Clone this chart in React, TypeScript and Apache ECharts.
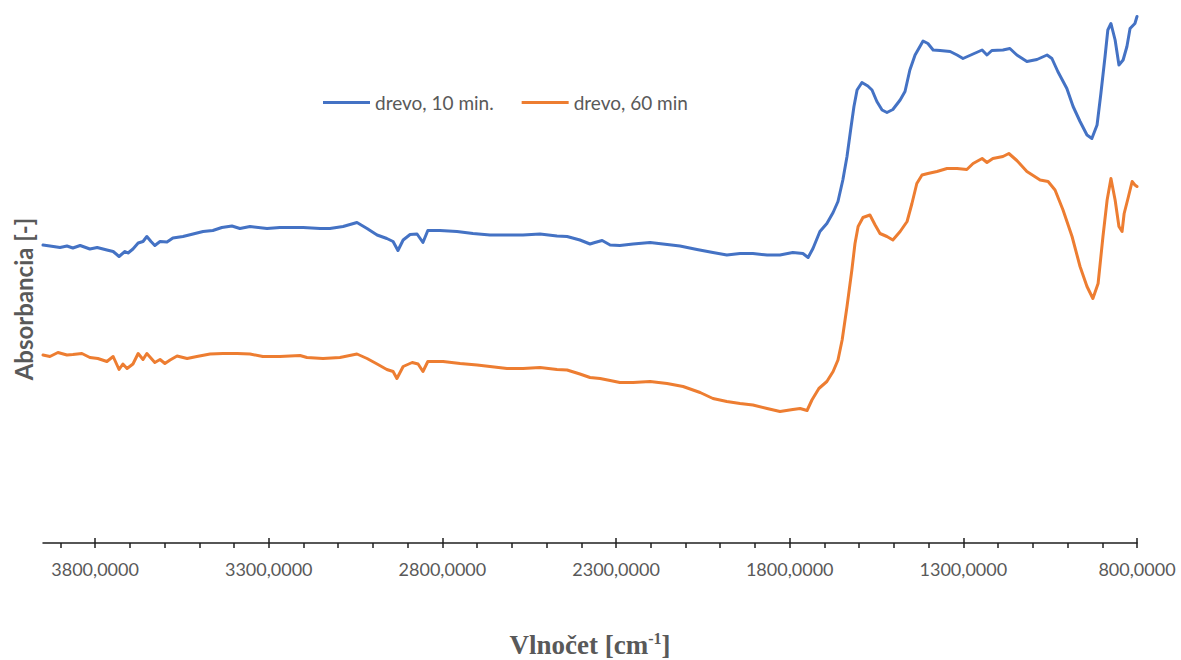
import React, { useEffect, useRef } from "react";
import * as echarts from "echarts";

// FTIR spectra of wood samples, wavenumber (cm-1) vs absorbance
const blueName = "drevo, 10 min.";
const orangeName = "drevo, 60 min";

const blueWn = [3950,3930,3901,3881,3864,3843,3815,3794,3766,3748,3731,3714,3705,3691,3676,3662,3651,3639,3628,3613,3593,3576,3547,3518,3489,3461,3435,3406,3383,3354,3305,3268,3230,3201,3152,3124,3086,3046,3017,2988,2960,2942,2928,2913,2893,2873,2856,2842,2807,2758,2712,2663,2614,2568,2519,2470,2441,2404,2375,2361,2340,2317,2289,2251,2202,2165,2116,2067,2021,1981,1943,1906,1865,1828,1791,1762,1747,1733,1713,1693,1675,1661,1647,1635,1624,1615,1606,1592,1575,1563,1549,1534,1520,1503,1482,1468,1454,1439,1425,1416,1402,1387,1367,1338,1318,1301,1272,1246,1232,1218,1186,1166,1146,1117,1088,1059,1045,1028,1002,984,964,944,930,915,904,892,884,875,863,852,840,829,820,806,800];
const blueAbs = [0.596,0.594,0.591,0.594,0.590,0.595,0.588,0.591,0.586,0.583,0.573,0.583,0.580,0.588,0.600,0.603,0.613,0.603,0.595,0.603,0.602,0.610,0.613,0.618,0.623,0.625,0.631,0.634,0.629,0.633,0.629,0.631,0.631,0.631,0.629,0.629,0.633,0.641,0.629,0.616,0.609,0.603,0.585,0.606,0.617,0.618,0.601,0.625,0.625,0.623,0.619,0.616,0.616,0.616,0.618,0.614,0.613,0.606,0.598,0.601,0.605,0.596,0.595,0.598,0.601,0.598,0.594,0.587,0.581,0.576,0.579,0.579,0.576,0.576,0.581,0.579,0.571,0.589,0.623,0.639,0.661,0.683,0.726,0.773,0.829,0.873,0.906,0.921,0.914,0.906,0.883,0.866,0.861,0.867,0.886,0.903,0.946,0.976,0.993,1.004,0.999,0.986,0.985,0.983,0.976,0.969,0.978,0.986,0.976,0.985,0.986,0.989,0.976,0.963,0.967,0.976,0.969,0.943,0.909,0.873,0.843,0.816,0.809,0.836,0.899,0.973,1.026,1.039,1.006,0.956,0.966,0.993,1.029,1.039,1.053];

const orangeWn = [3950,3930,3907,3881,3864,3838,3815,3792,3766,3748,3731,3720,3708,3691,3676,3662,3651,3628,3613,3599,3584,3564,3535,3507,3469,3432,3391,3354,3317,3268,3210,3190,3144,3095,3046,3017,2988,2960,2942,2931,2913,2887,2870,2856,2842,2798,2749,2700,2663,2614,2568,2519,2470,2441,2404,2375,2346,2317,2289,2251,2202,2153,2107,2058,2021,1981,1943,1906,1865,1828,1791,1770,1750,1736,1716,1693,1675,1661,1649,1635,1621,1612,1603,1589,1569,1554,1540,1520,1503,1482,1462,1448,1434,1419,1402,1376,1347,1318,1290,1272,1246,1232,1215,1186,1169,1146,1117,1079,1056,1036,1013,987,964,944,927,912,898,886,875,863,852,843,837,826,814,806,800];
const orangeAbs = [0.376,0.373,0.381,0.376,0.377,0.379,0.371,0.369,0.363,0.373,0.347,0.358,0.349,0.358,0.379,0.367,0.379,0.361,0.367,0.359,0.366,0.374,0.369,0.373,0.378,0.379,0.379,0.378,0.373,0.373,0.375,0.371,0.369,0.371,0.378,0.369,0.358,0.347,0.343,0.329,0.353,0.361,0.358,0.343,0.363,0.363,0.359,0.356,0.353,0.349,0.349,0.351,0.347,0.346,0.338,0.331,0.329,0.325,0.321,0.321,0.323,0.319,0.313,0.301,0.289,0.283,0.279,0.276,0.269,0.263,0.267,0.269,0.265,0.286,0.309,0.323,0.343,0.366,0.406,0.473,0.546,0.599,0.633,0.651,0.656,0.636,0.619,0.613,0.606,0.623,0.643,0.679,0.719,0.736,0.739,0.743,0.749,0.749,0.747,0.759,0.769,0.761,0.769,0.773,0.779,0.765,0.743,0.726,0.723,0.706,0.666,0.613,0.553,0.513,0.489,0.519,0.613,0.686,0.729,0.686,0.633,0.623,0.659,0.689,0.723,0.716,0.713];

const majorTicks = [800, 1300, 1800, 2300, 2800, 3300, 3800];
const minorTicks = [900, 1000, 1100, 1200, 1400, 1500, 1600, 1700, 1900, 2000, 2100, 2200, 2400, 2500, 2600, 2700, 2900, 3000, 3100, 3200, 3400, 3500, 3600, 3700, 3900];

const X_MIN = 800;
const X_MAX = 3950;

const gray = "#595959";
const axisColor = "#1f1f1f";

const pairs = (xs: number[], ys: number[]) => xs.map((x, i) => [x, ys[i]]);

export default function App() {
  const ref = useRef<HTMLDivElement>(null);

  useEffect(() => {
    if (!ref.current) return;
    const chart = echarts.init(ref.current, null, { renderer: "svg" });

    const baseX = {
      type: "value" as const,
      min: X_MIN,
      max: X_MAX,
      inverse: true,
      position: "bottom" as const,
      splitLine: { show: false },
      minorTick: { show: false },
    };

    chart.setOption({
      animation: false,
      backgroundColor: "#ffffff",
      grid: { left: 43, right: 44, top: 13, bottom: 117, outerBoundsMode: "none" },
      legend: {
        left: 318,
        top: 88,
        icon: "rect",
        itemWidth: 47,
        itemHeight: 3,
        itemGap: 28,
        textStyle: { color: gray, fontSize: 19, fontFamily: "Lato" },
        data: [blueName, orangeName],
      },
      xAxis: [
        {
          ...baseX,
          axisLine: { show: true, lineStyle: { color: axisColor, width: 1.5 } },
          axisTick: { show: true, customValues: majorTicks, length: 5, lineStyle: { color: axisColor, width: 1.5 } },
          axisLabel: {
            show: true,
            customValues: majorTicks,
            margin: 17,
            color: gray,
            fontSize: 18,
            fontFamily: "Lato",
            formatter: (v: number) => v.toFixed(4).replace(".", ","),
          },
        },
        {
          ...baseX,
          axisLine: { show: false },
          axisTick: { show: true, customValues: minorTicks, length: 5, lineStyle: { color: axisColor, width: 1.5 } },
          axisLabel: { show: false },
        },
        {
          ...baseX,
          axisLine: { show: false },
          axisTick: { show: true, inside: true, customValues: majorTicks, length: 5, lineStyle: { color: axisColor, width: 1.5 } },
          axisLabel: { show: false },
        },
      ],
      yAxis: {
        type: "value",
        min: 0,
        max: 1.06,
        axisLine: { show: false },
        axisTick: { show: false },
        axisLabel: { show: false },
        splitLine: { show: false },
      },
      series: [
        {
          name: blueName,
          type: "line",
          xAxisIndex: 0,
          data: pairs(blueWn, blueAbs),
          showSymbol: false,
          symbol: "none",
          color: "#4472C4",
          lineStyle: { color: "#4472C4", width: 3, cap: "round", join: "round" },
        },
        {
          name: orangeName,
          type: "line",
          xAxisIndex: 0,
          data: pairs(orangeWn, orangeAbs),
          showSymbol: false,
          symbol: "none",
          color: "#ED7D31",
          lineStyle: { color: "#ED7D31", width: 3, cap: "round", join: "round" },
        },
      ],
      graphic: [
        {
          type: "text",
          x: 23,
          y: 299,
          rotation: Math.PI / 2,
          style: {
            text: "Absorbancia [-]",
            fill: gray,
            fontSize: 24,
            fontWeight: "bold",
            fontFamily: "Lato",
            align: "center",
            verticalAlign: "middle",
          },
        },
        {
          type: "text",
          x: 590,
          y: 645,
          style: {
            text: "{a|Vlnočet [cm}{s|-1}{a|]}",
            align: "center",
            verticalAlign: "middle",
            rich: {
              a: { fill: gray, fontSize: 27, fontWeight: "bold", fontFamily: "Liberation Serif" },
              s: { fill: gray, fontSize: 16, fontWeight: "bold", fontFamily: "Liberation Serif", padding: [0, 0, 14, 0] },
            },
          },
        },
      ],
    });

    return () => chart.dispose();
  }, []);

  return (
    <div
      ref={ref}
      style={{ position: "fixed", left: 0, top: 0, width: 1181, height: 660, background: "#fff" }}
    />
  );
}
